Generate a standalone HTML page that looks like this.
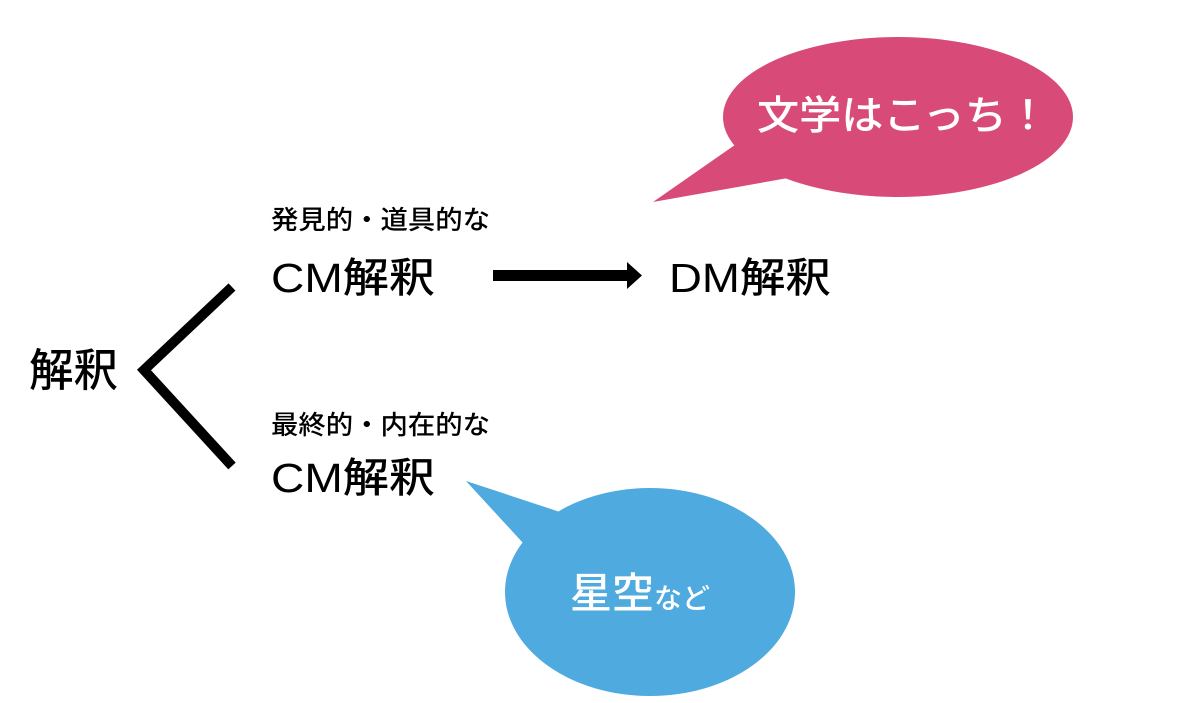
<!DOCTYPE html>
<html><head><meta charset="utf-8"><style>
html,body{margin:0;padding:0;background:#fff;}
body{width:1200px;height:703px;overflow:hidden;position:relative;}
svg{position:absolute;left:0;top:0;}
text{font-family:"Liberation Sans","Noto Sans CJK JP",sans-serif;font-weight:500;}
</style></head><body>
<svg width="1200" height="703" viewBox="0 0 1200 703">
  <!-- pink bubble -->
  <ellipse cx="898" cy="117" rx="175" ry="80" fill="#d84b78"/>
  <polygon points="742,140 788,178 653,202" fill="#d84b78"/>
  <text x="757" y="129" font-size="40" fill="#fff" textLength="292" lengthAdjust="spacingAndGlyphs">文学はこっち！</text>
  <!-- blue bubble -->
  <ellipse cx="650" cy="592" rx="145" ry="104" fill="#4eaadf"/>
  <polygon points="466,481 560,512 523,543" fill="#4eaadf"/>
  <text x="570" y="608" font-size="42" fill="#fff">星空<tspan font-size="28">など</tspan></text>
  <!-- bracket -->
  <polyline points="232,287 144,370 232,466" fill="none" stroke="#000" stroke-width="10"/>
  <!-- arrow -->
  <rect x="493" y="270" width="135" height="11" fill="#000"/>
  <polygon points="627,262 642,275.5 627,289" fill="#000"/>
  <!-- labels -->
  <text x="29" y="386" font-size="45" fill="#000" textLength="89" lengthAdjust="spacingAndGlyphs">解釈</text>
  <text x="271" y="229" font-size="26" fill="#000" textLength="219" lengthAdjust="spacingAndGlyphs">発見的・道具的な</text>
  <text x="271" y="292" font-size="41" fill="#000" textLength="164" lengthAdjust="spacingAndGlyphs">CM解釈</text>
  <text x="271" y="434" font-size="26" fill="#000" textLength="219" lengthAdjust="spacingAndGlyphs">最終的・内在的な</text>
  <text x="271" y="492" font-size="41" fill="#000" textLength="164" lengthAdjust="spacingAndGlyphs">CM解釈</text>
  <text x="669" y="292" font-size="41" fill="#000" textLength="162" lengthAdjust="spacingAndGlyphs">DM解釈</text>
</svg>
</body></html>
